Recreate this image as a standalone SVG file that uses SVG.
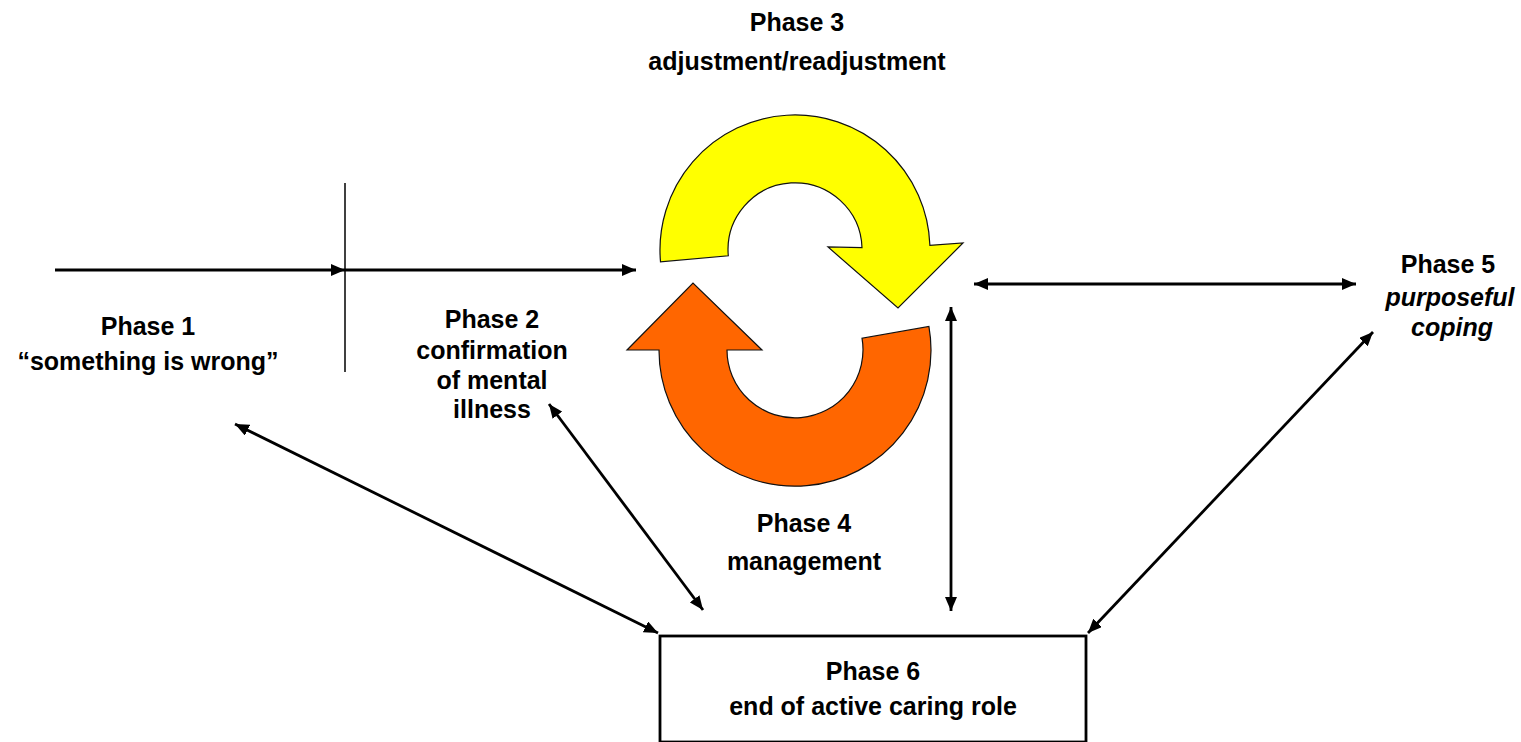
<svg xmlns="http://www.w3.org/2000/svg" width="1521" height="742" viewBox="0 0 1521 742">
<style>
  text { font-family: "Liberation Sans", Arial, sans-serif; font-weight: bold; font-size: 25px; fill: #000; text-anchor: middle; }
  .it { font-style: italic; }
  .conn { stroke: #000; stroke-width: 2.8; fill: none; }
  .shape { stroke: #111; stroke-width: 1.2; }
</style>
<defs>
  <marker id="ah" viewBox="0 0 14 12" refX="14" refY="6" markerWidth="14" markerHeight="12" markerUnits="userSpaceOnUse" orient="auto-start-reverse">
    <path d="M0,0 L14,6 L0,12 Z" fill="#000"/>
  </marker>
</defs>
<rect width="1521" height="742" fill="#fff"/>

<g id="connectors">
  <line x1="55" y1="270" x2="345" y2="270" class="conn" marker-end="url(#ah)"/>
  <line x1="345" y1="270" x2="636" y2="270" class="conn" marker-end="url(#ah)"/>
  <line x1="345" y1="183" x2="345" y2="372" stroke="#000" stroke-width="1.5"/>
  <line x1="235" y1="424" x2="658" y2="633" class="conn" marker-start="url(#ah)" marker-end="url(#ah)"/>
  <line x1="549" y1="404" x2="703" y2="610" class="conn" marker-start="url(#ah)" marker-end="url(#ah)"/>
  <line x1="951" y1="307" x2="951" y2="611" class="conn" marker-start="url(#ah)" marker-end="url(#ah)"/>
  <line x1="974" y1="284" x2="1356" y2="284" class="conn" marker-start="url(#ah)" marker-end="url(#ah)"/>
  <line x1="1373" y1="332" x2="1088" y2="633" class="conn" marker-start="url(#ah)" marker-end="url(#ah)"/>
</g>

<g id="phase3-arrow">
  <path class="shape" fill="#FFFF00" d="M660.5,261.8 A135,135 0 1 1 929.9,245.3 L963,243 L898,308 L828,247 L862,247.7 A67,67 0 1 0 728.3,255.8 Z"/>
</g>
<g id="phase4-arrow">
  <path class="shape" fill="#FF6600" d="M727,350 L762,350 L693,283 L627,350 L659,350 A136,136 0 1 0 928.9,326.4 L862,338.2 A68,68 0 1 1 727,350 Z"/>
</g>

<g id="phase1">
  <text x="148" y="335">Phase 1</text>
  <text x="148" y="370">“something is wrong”</text>
</g>
<g id="phase2">
  <text x="492" y="328">Phase 2</text>
  <text x="492" y="359">confirmation</text>
  <text x="492" y="389">of mental</text>
  <text x="492" y="418">illness</text>
</g>
<g id="phase3">
  <text x="797" y="31">Phase 3</text>
  <text x="797" y="70">adjustment/readjustment</text>
</g>
<g id="phase4">
  <text x="804" y="532">Phase 4</text>
  <text x="804" y="570">management</text>
</g>
<g id="phase5">
  <text x="1448" y="273">Phase 5</text>
  <text x="1450" y="306" class="it">purposeful</text>
  <text x="1452" y="336" class="it">coping</text>
</g>
<g id="phase6">
  <rect x="660" y="636" width="426" height="106" fill="#fff" stroke="#000" stroke-width="2.8"/>
  <text x="873" y="680">Phase 6</text>
  <text x="873" y="715">end of active caring role</text>
</g>
</svg>
